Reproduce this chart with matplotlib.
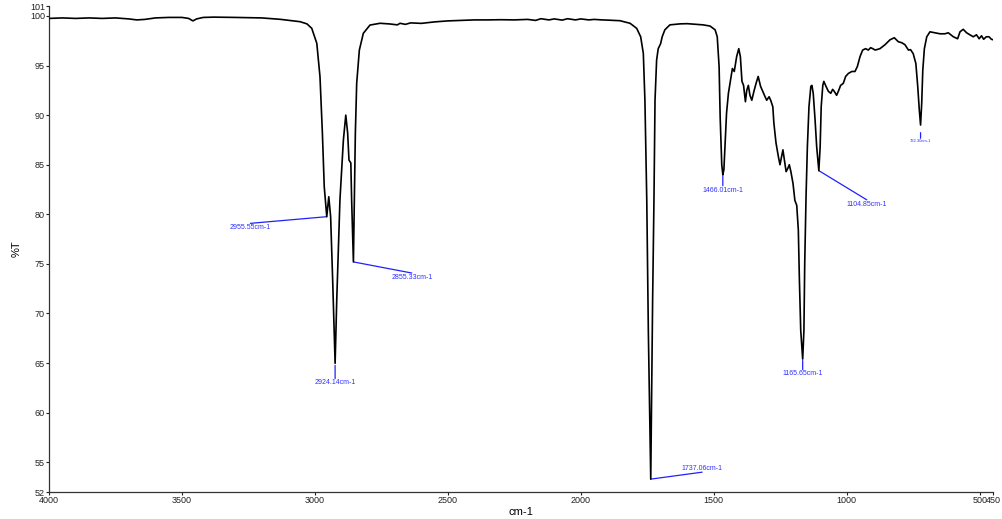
import matplotlib
matplotlib.use('Agg')
import matplotlib.pyplot as plt

plt.rcParams['font.family'] = ['Liberation Sans', 'DejaVu Sans']

# spectrum (wavenumber cm-1, %T)
wavenumber = [
    4000, 3950, 3900, 3850, 3800, 3750, 3700, 3670, 3640, 3600,
    3550, 3500, 3475, 3459, 3445, 3420, 3380, 3300, 3200, 3131,
    3056, 3030, 3012, 2993, 2981, 2972, 2965, 2955.55, 2948, 2941,
    2933, 2924.14, 2918, 2906, 2893, 2884, 2877, 2872, 2865, 2862,
    2855.33, 2852, 2848, 2843, 2833, 2818, 2793, 2755, 2718, 2690,
    2680, 2660, 2640, 2600, 2550, 2500, 2450, 2400, 2350, 2300,
    2250, 2200, 2170, 2150, 2120, 2100, 2070, 2050, 2020, 2000,
    1970, 1950, 1920, 1900, 1853, 1815, 1790, 1775, 1765, 1759,
    1752, 1746, 1740, 1737.06, 1734, 1730, 1725, 1721, 1715, 1709,
    1700, 1694, 1684, 1665, 1627, 1600, 1564, 1540, 1514, 1495,
    1487, 1480, 1476, 1470, 1466.01, 1462, 1458, 1452, 1445, 1437,
    1430, 1423, 1414, 1406, 1400, 1394, 1388, 1381, 1376, 1370,
    1364, 1357, 1349, 1341, 1333, 1324, 1316, 1307, 1301, 1292,
    1286, 1278, 1274, 1266, 1257, 1251, 1245, 1240, 1235, 1228,
    1222, 1216, 1210, 1202, 1195, 1188, 1182, 1178, 1173, 1165.65,
    1161, 1158, 1153, 1148, 1142, 1135, 1131, 1126, 1119, 1113,
    1104.85, 1100, 1096, 1090, 1086, 1078, 1069, 1060, 1053, 1047,
    1038, 1030, 1023, 1013, 1004, 994, 981, 969, 960, 950,
    940, 929, 919, 910, 902, 893, 875, 856, 837, 821,
    806, 793, 781, 768, 760, 750, 740, 733, 727, 722.3,
    718, 714, 708, 699, 687, 668, 649, 631, 618, 599,
    583, 574, 562, 549, 537, 524, 512, 502, 493, 485,
    475, 465, 456, 450,
]
transmittance = [
    99.75, 99.8, 99.75, 99.8, 99.75, 99.8, 99.7, 99.6, 99.65, 99.8,
    99.85, 99.85, 99.75, 99.5, 99.7, 99.85, 99.88, 99.85, 99.8, 99.66,
    99.42, 99.2, 98.75, 97.24, 93.87, 88.2, 82.78, 79.76, 81.77, 79.76,
    73.07, 64.97, 71.36, 81.44, 87.49, 90.0, 88.2, 85.47, 85.17, 81.44,
    75.2, 81.44, 88.2, 93.2, 96.56, 98.25, 99.08, 99.26, 99.19, 99.1,
    99.26, 99.15, 99.3, 99.25, 99.4, 99.5, 99.55, 99.6, 99.6, 99.62,
    99.6, 99.65, 99.55, 99.72, 99.6, 99.7, 99.58, 99.72, 99.6, 99.7,
    99.6, 99.65, 99.6, 99.58, 99.52, 99.26, 98.75, 97.9, 96.23, 91.5,
    81.4, 68.0, 57.9, 53.3, 61.3, 71.4, 81.4, 91.5, 95.55, 96.7,
    97.2, 97.9, 98.6, 99.1, 99.2, 99.22, 99.15, 99.1, 98.98, 98.6,
    97.9, 94.9, 89.8, 85.0, 84.0, 84.5, 86.8, 90.2, 92.2, 93.5,
    94.7, 94.4, 95.9, 96.7, 95.9, 93.4, 93.0, 91.35, 92.5, 93.0,
    92.0, 91.5, 92.4, 93.2, 93.9, 92.9, 92.4, 91.85, 91.5, 91.85,
    91.5, 90.85, 89.2, 87.2, 85.8, 85.0, 85.8, 86.5, 85.6, 84.3,
    84.6, 85.0, 84.3, 83.1, 81.4, 80.9, 78.4, 73.4, 68.3, 65.4,
    68.3, 75.0, 81.8, 86.8, 90.85, 92.9, 93.0, 92.2, 89.5, 86.8,
    84.4, 86.8, 90.85, 93.0, 93.4, 92.9, 92.4, 92.2, 92.6, 92.4,
    92.0, 92.5, 93.0, 93.2, 93.9, 94.2, 94.4, 94.4, 94.9, 95.9,
    96.56, 96.7, 96.56, 96.8, 96.7, 96.56, 96.7, 97.1, 97.6, 97.8,
    97.4, 97.3, 97.1, 96.56, 96.6, 96.2, 95.2, 92.9, 90.5, 89.0,
    91.2, 94.5, 96.7, 97.9, 98.4, 98.3, 98.2, 98.2, 98.3, 97.9,
    97.7, 98.4, 98.65, 98.3, 98.1, 97.9, 98.1, 97.7, 98.0, 97.65,
    97.9, 97.9, 97.65, 97.6,
]

# labelled peaks
peak_wn = [2955.55, 2924.14, 2855.33, 1737.06, 1466.01, 1165.65, 1104.85, 722.3]
peak_t = [79.76, 64.97, 75.2, 53.3, 84.0, 65.4, 84.4, 89.0]
peak_labels = ['2955.55cm-1', '2924.14cm-1', '2855.33cm-1', '1737.06cm-1',
               '1466.01cm-1', '1165.65cm-1', '1104.85cm-1', '722.30cm-1']

x_ticks = [4000, 3500, 3000, 2500, 2000, 1500, 1000, 500, 450]
y_ticks = [52, 55, 60, 65, 70, 75, 80, 85, 90, 95, 100, 101]

fig = plt.figure(figsize=(10.03, 5.19), dpi=100)
ax = fig.add_axes([0.0489, 0.052, 0.9411, 0.9364])

ax.plot(wavenumber, transmittance, color='black', linewidth=1.2, zorder=3,
        solid_joinstyle='round', solid_capstyle='round')

# label lines: (dx, dy) offset in points, text alignment, shrink at peak
offsets = [(-55, -4.8), (0, -11), (42, -8), (37, 5), (0, -8), (0, -7.5), (34.5, -21), (0, -9.5)]
valign = ['top', 'top', 'top', 'bottom', 'top', 'top', 'top', 'top']
shrink = [0, 1.5, 0, 0, 0, 1, 0, 5.5]
sizes = [5, 5, 5, 5, 5, 5, 5, 3]

for wn, t, lab, off, va, sh, fs in zip(peak_wn, peak_t, peak_labels, offsets, valign, shrink, sizes):
    ax.annotate('', xy=(wn, t), xytext=off, textcoords='offset points',
                arrowprops=dict(arrowstyle='-', color='#2020ff', lw=0.9,
                                shrinkA=0, shrinkB=sh), zorder=2)
    dy = -0.6 if va == 'top' else 0.3
    ax.annotate(lab, xy=(wn, t), xytext=(off[0], off[1] + dy), textcoords='offset points',
                ha='center', va=va, fontsize=fs, color='#3030ff')

ax.set_xlim(4000, 450)
ax.set_ylim(52, 101)
ax.set_xticks(x_ticks)
ax.set_yticks(y_ticks)
ax.set_xticklabels([str(v) for v in x_ticks])
ax.set_yticklabels([str(v) for v in y_ticks])

for side in ['top', 'right']:
    ax.spines[side].set_visible(False)
for side in ['left', 'bottom']:
    ax.spines[side].set_linewidth(0.9)
    ax.spines[side].set_color('#333333')

ax.tick_params(direction='out', length=2.5, width=0.8, labelsize=6.5,
               colors='#222222', pad=0.5)

ax.set_xlabel('cm-1', fontsize=8, labelpad=1)
ax.set_ylabel('%T', fontsize=8, labelpad=6)

fig.savefig('out.png', dpi=100)
